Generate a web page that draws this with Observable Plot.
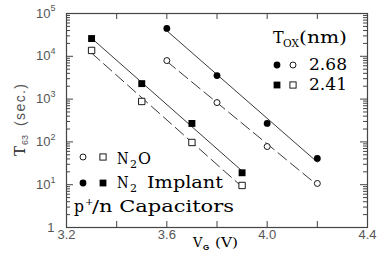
<!DOCTYPE html>
<html><head><meta charset="utf-8">
<script src="https://cdn.jsdelivr.net/npm/d3@7"></script>
<script src="https://cdn.jsdelivr.net/npm/@observablehq/plot@0.6"></script>
<style>body{margin:0;background:#fff;overflow:hidden}</style>
</head><body><div id="chart"></div>
<script>
// ---- data ----
const vg268 = [3.6, 3.8, 4.0, 4.2];
const vg241 = [3.3, 3.5, 3.7, 3.9];
const t268Implant = [44700, 3550, 270, 41];
const t268N2O = [7950, 830, 78, 10.7];
const t241Implant = [26000, 2300, 270, 19];
const t241N2O = [13700, 880, 97, 9.6];
const xTickValues = [3.2, 3.6, 4.0, 4.4];
const xTickLabels = ["3.2", "3.6", "4.0", "4.4"];
const xMinorValues = [3.4, 3.8, 4.2];
const yDecades = [1, 10, 100, 1000, 10000, 100000];
const yExponents = ["", "1", "2", "3", "4", "5"];

const W = 380, H = 253;
const mL = 66, mR = 13, mT = 13, mB = 26;
const pw = W - mL - mR, ph = H - mT - mB;

function series(xs, ys, oxide, kind) {
  return xs.map((x, i) => ({x, y: ys[i], oxide, kind}));
}
const pts = [
  ...series(vg268, t268Implant, "2.68", "implant"),
  ...series(vg268, t268N2O, "2.68", "n2o"),
  ...series(vg241, t241Implant, "2.41", "implant"),
  ...series(vg241, t241N2O, "2.41", "n2o")
];
// least squares fit in log space, drawn from first to last voltage
function fit(xs, ys, key) {
  const ly = ys.map(Math.log10);
  const mx = d3.mean(xs), my = d3.mean(ly);
  const b = d3.sum(xs, (x, i) => (x - mx) * (ly[i] - my)) / d3.sum(xs, x => (x - mx) ** 2);
  const a = my - b * mx;
  const x0 = d3.min(xs), x1 = d3.max(xs);
  return [{x: x0, y: 10 ** (a + b * x0), key}, {x: x1, y: 10 ** (a + b * x1), key}];
}
const solidLines = [...fit(vg268, t268Implant, "a"), ...fit(vg241, t241Implant, "b")];
const dashLines = [...fit(vg268, t268N2O, "c"), ...fit(vg241, t241N2O, "d")];

const yMinor = [];
for (const d of yDecades.slice(0, -1)) for (let k = 2; k <= 9; k++) yMinor.push(d * k);
const xAllTicks = [...xTickValues, ...xMinorValues];

const axisColor = "#444";
const labelColor = "#555";

const plot = Plot.plot({
  width: W, height: H,
  marginLeft: mL, marginRight: mR, marginTop: mT, marginBottom: mB,
  x: {domain: [3.2, 4.4], axis: null},
  y: {type: "log", domain: [1, 100000], axis: null},
  style: {background: "#fff", overflow: "visible"},
  marks: [
    Plot.tickY(yDecades, {y: d => d, insetRight: pw - 7, stroke: axisColor}),
    Plot.tickY(yDecades, {y: d => d, insetLeft: pw - 7, stroke: axisColor}),
    Plot.tickY(yMinor, {y: d => d, insetRight: pw - 4, stroke: axisColor}),
    Plot.tickY(yMinor, {y: d => d, insetLeft: pw - 4, stroke: axisColor}),
    Plot.tickX(xAllTicks, {x: d => d, insetTop: ph - 6, stroke: axisColor}),
    Plot.tickX(xAllTicks, {x: d => d, insetBottom: ph - 6, stroke: axisColor}),
    Plot.frame({stroke: axisColor, strokeWidth: 1.2}),
    Plot.text(yDecades.slice(1), {y: d => d, frameAnchor: "left", dx: -16, textAnchor: "end", text: d => "10", fontSize: 13, fill: labelColor, fontFamily: "Liberation Sans"}),
    Plot.text(yDecades.slice(1), {y: d => d, frameAnchor: "left", dx: -16, dy: -5, textAnchor: "start", text: (d, i) => yExponents[i + 1], fontSize: 9, fill: labelColor, fontFamily: "Liberation Sans"}),
    Plot.text([yDecades[0]], {y: d => d, frameAnchor: "left", dx: -12, textAnchor: "end", text: d => "1", fontSize: 13, fill: labelColor, fontFamily: "Liberation Sans"}),
    Plot.text(xTickValues, {x: d => d, frameAnchor: "bottom", dy: 11, text: (d, i) => xTickLabels[i], fontSize: 13, fill: labelColor, fontFamily: "Liberation Sans"}),
    Plot.line(solidLines, {x: "x", y: "y", z: "key", stroke: "#222", strokeWidth: 0.9}),
    Plot.line(dashLines, {x: "x", y: "y", z: "key", stroke: "#222", strokeWidth: 0.9, strokeDasharray: "11,5"}),
    Plot.dot(pts.filter(d => d.oxide === "2.68" && d.kind === "implant"), {x: "x", y: "y", symbol: "circle", r: 3.4, fill: "#000", stroke: "none"}),
    Plot.dot(pts.filter(d => d.oxide === "2.68" && d.kind === "n2o"), {x: "x", y: "y", symbol: "circle", r: 3, fill: "#fff", stroke: "#000", strokeWidth: 0.9}),
    Plot.dot(pts.filter(d => d.oxide === "2.41" && d.kind === "implant"), {x: "x", y: "y", symbol: "square", r: 3.9, fill: "#000", stroke: "none"}),
    Plot.dot(pts.filter(d => d.oxide === "2.41" && d.kind === "n2o"), {x: "x", y: "y", symbol: "square", r: 3.6, fill: "#fff", stroke: "#000", strokeWidth: 0.9})
  ]
});
document.getElementById("chart").appendChild(plot);

// ---- annotations / legends ----
const svg = d3.select(plot);
const serif = "DejaVu Serif";
const ann = svg.append("g").attr("text-anchor", "start").attr("fill", "#000");
function circ(cx, cy, filled) {
  ann.append("circle").attr("cx", cx).attr("cy", cy).attr("r", filled ? 3.4 : 3)
    .attr("fill", filled ? "#000" : "#fff").attr("stroke", filled ? "none" : "#000").attr("stroke-width", 0.9);
}
function sq(cx, cy, filled) {
  const s = filled ? 6.8 : 6.2;
  ann.append("rect").attr("x", cx - s / 2).attr("y", cy - s / 2).attr("width", s).attr("height", s)
    .attr("fill", filled ? "#000" : "#fff").attr("stroke", filled ? "none" : "#000").attr("stroke-width", 0.9);
}
function txt(x, y, size, s, len, fam) {
  const e = ann.append("text").attr("x", x).attr("y", y).attr("font-family", fam || serif)
    .attr("font-size", size).attr("text-anchor", "start").text(s);
  if (len) e.attr("textLength", len).attr("lengthAdjust", "spacingAndGlyphs");
  return e;
}

// Tox legend
txt(273, 43, 16, "T");
txt(283, 47, 11, "OX", 16);
txt(299, 43, 16, "(nm)", 48);
circ(277, 65, true); circ(293, 65, false);
txt(309, 70, 16, "2.68", 38);
sq(277, 85, true); sq(293, 85, false);
txt(309, 90, 16, "2.41", 38);

// process legend
circ(83, 157, false); sq(103, 157, false);
txt(117, 164, 16, "N", 11.5);
txt(130, 168, 11, "2");
txt(138, 164, 16, "O", 13);
circ(83, 183, true); sq(103, 183, true);
txt(117, 188, 16, "N", 11.5);
txt(130, 192, 11, "2");
txt(147, 188, 16, "Implant", 76);
txt(74, 212, 16, "p", 10);
txt(85, 205, 10, "+");
txt(92, 212, 16, "/n Capacitors", 142);

// axis titles
txt(193, 247, 13, "V");
txt(203, 250, 8, "G", null, "Liberation Sans").attr("font-weight", "bold");
txt(215, 247, 13, "(V)", 23);

const yl = ann.append("g").attr("transform", "translate(25,156) rotate(-90)");
yl.append("text").attr("x", 0).attr("y", 0).attr("font-family", serif).attr("font-size", 15).attr("fill", "#222").text("T");
yl.append("text").attr("x", 11).attr("y", 3).attr("font-family", "Liberation Sans").attr("font-size", 9).attr("fill", labelColor).text("63");
yl.append("text").attr("x", 30).attr("y", 0).attr("font-family", "Liberation Sans").attr("font-size", 14)
  .attr("fill", labelColor).attr("textLength", 42).attr("lengthAdjust", "spacing").text("(sec.)");
</script>
</body></html>
